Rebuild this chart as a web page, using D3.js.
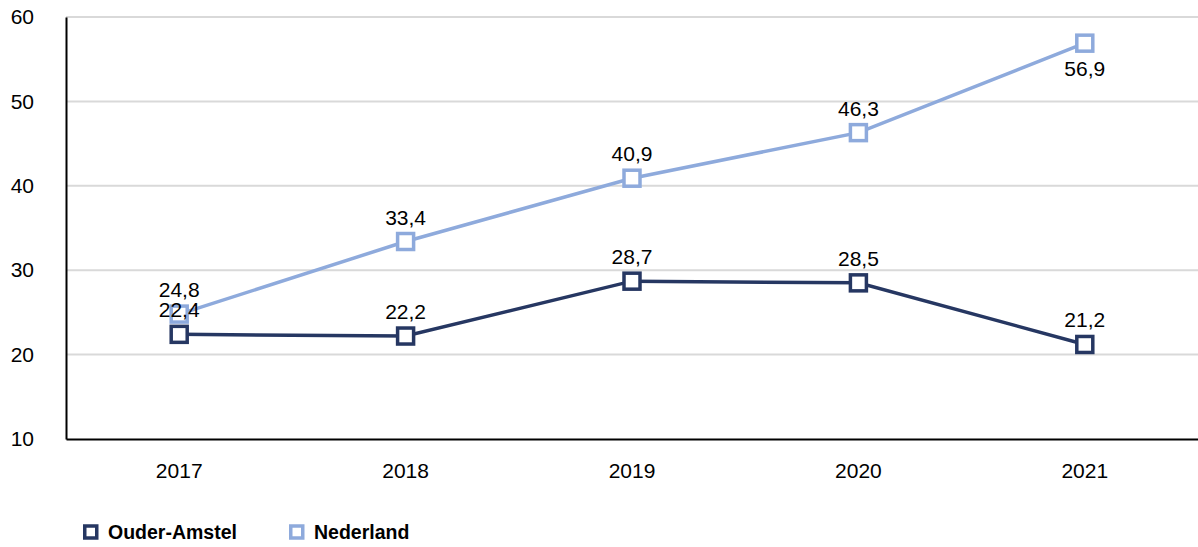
<!DOCTYPE html>
<html><head><meta charset="utf-8">
<script src="https://cdn.jsdelivr.net/npm/d3@7"></script>
<style>html,body{margin:0;padding:0;background:#fff;}svg{display:block;font-family:"Liberation Sans",Arial,sans-serif;}</style>
</head><body>
<svg id="c" width="1198" height="547"></svg>
<script>
const years = ["2017","2018","2019","2020","2021"];
const ouderAmstel = [22.4, 22.2, 28.7, 28.5, 21.2];
const nederland = [24.8, 33.4, 40.9, 46.3, 56.9];
const yTicks = [10, 20, 30, 40, 50, 60];
const seriesNames = ["Ouder-Amstel", "Nederland"];
const seriesColors = ["#263762", "#8eaadc"];
// label position per point: "above" or "below"
const ouderPos = ["above","above","above","above","above"];
const nedPos = ["above","above","above","above","below"];

const FONT = "Liberation Sans, Arial, sans-serif";
const svg = d3.select("#c");
const x = d3.scaleBand().domain(years).range([66, 1198]);
const y = d3.scaleLinear().domain([10, 60]).range([439, 17]);
const fmt = v => d3.format(".1f")(v).replace(".", ",");

// gridlines
svg.append("g").selectAll("line").data(yTicks.filter(t => t > 10)).join("line")
  .attr("x1", 66).attr("x2", 1198)
  .attr("y1", d => y(d)).attr("y2", d => y(d))
  .attr("stroke", "#d9d9d9").attr("stroke-width", 2);

// y axis
const yAxis = svg.append("g").attr("transform", "translate(66,0)")
  .call(d3.axisLeft(y).tickValues(yTicks).tickSize(0).tickPadding(32).tickFormat(d3.format("d")));
yAxis.attr("font-size", 21).attr("font-family", FONT);
yAxis.select(".domain").attr("stroke", "#000").attr("stroke-width", 2);
yAxis.selectAll("text").attr("fill", "#000");

// x axis
const xAxis = svg.append("g").attr("transform", "translate(0,439)")
  .call(d3.axisBottom(x).tickSize(0).tickPadding(24));
xAxis.attr("font-size", 21).attr("font-family", FONT);
xAxis.select(".domain").attr("stroke", "#000").attr("stroke-width", 2);
xAxis.selectAll("text").attr("fill", "#000");

const series = [
  {name: seriesNames[0], values: ouderAmstel, color: seriesColors[0], pos: ouderPos},
  {name: seriesNames[1], values: nederland, color: seriesColors[1], pos: nedPos}
];
const cx = d => x(d) + x.bandwidth() / 2;
const line = d3.line().x(d => cx(d.year)).y(d => y(d.v));

const order = [series[1], series[0]];
order.forEach(s => {
  const pts = years.map((yr, i) => ({year: yr, v: s.values[i], pos: s.pos[i]}));
  const g = svg.append("g");
  g.append("path").datum(pts).attr("d", line)
    .attr("fill", "none").attr("stroke", s.color).attr("stroke-width", 3.5);
  g.selectAll("rect").data(pts).join("rect")
    .attr("x", d => cx(d.year) - 8).attr("y", d => y(d.v) - 8)
    .attr("width", 16).attr("height", 16)
    .attr("fill", "#fff").attr("stroke", s.color).attr("stroke-width", 3.5);
});
order.forEach(s => {
  const pts = years.map((yr, i) => ({year: yr, v: s.values[i], pos: s.pos[i]}));
  svg.append("g").selectAll("text").data(pts).join("text")
    .attr("x", d => cx(d.year))
    .attr("y", d => d.pos === "above" ? y(d.v) - 17 : y(d.v) + 33)
    .attr("text-anchor", "middle").attr("font-size", 21).attr("fill", "#000")
    .text(d => fmt(d.v));
});

// legend
const legX = [83, 289];
series.forEach((s, i) => {
  const g = svg.append("g").attr("transform", `translate(${legX[i]},532)`);
  g.append("rect").attr("x", 1.75).attr("y", -6).attr("width", 12).attr("height", 12)
    .attr("fill", "#fff").attr("stroke", s.color).attr("stroke-width", 3.5);
  g.append("text").attr("x", 25).attr("y", 7).attr("font-size", 19.5).attr("font-weight", "bold")
    .attr("fill", "#000").text(s.name);
});
</script>
</body></html>
